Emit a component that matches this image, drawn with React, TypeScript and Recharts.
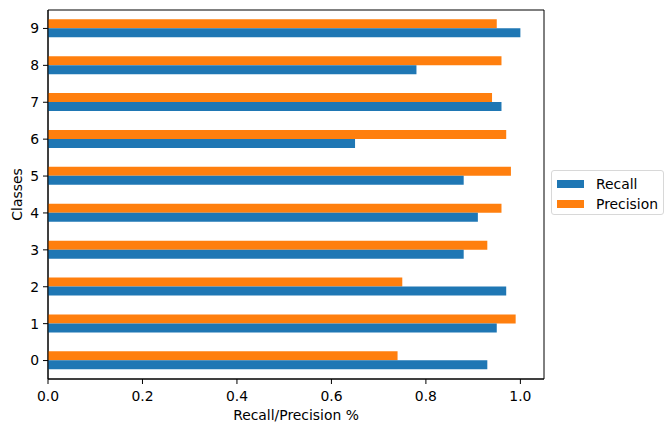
import React from 'react'
import {
  BarChart,
  Bar,
  XAxis,
  YAxis,
  Label,
  ReferenceArea,
} from 'recharts'

// values
const classes = ['0', '1', '2', '3', '4', '5', '6', '7', '8', '9']
const recall = [0.93, 0.95, 0.97, 0.88, 0.91, 0.88, 0.65, 0.96, 0.78, 1.0]
const precision = [0.74, 0.99, 0.75, 0.93, 0.96, 0.98, 0.97, 0.94, 0.96, 0.95]
const xTicks = [0, 0.2, 0.4, 0.6, 0.8, 1.0]

const data = classes.map((c, i) => ({
  cls: c,
  recall: recall[i],
  precision: precision[i],
}))

const BLUE = '#1f77b4'
const ORANGE = '#ff7f0e'
const FONT = '"DejaVu Sans", sans-serif'
const tickStyle = { fontSize: 13.9, fill: '#000', fontFamily: FONT }

function YLabel({ viewBox }: any) {
  const cy = viewBox.y + viewBox.height / 2
  return (
    <text
      x={22}
      y={cy}
      transform={`rotate(-90 22 ${cy})`}
      textAnchor="middle"
      fontSize={13.9}
      fontFamily={FONT}
      fill="#000"
    >
      Classes
    </text>
  )
}

function XLabel({ viewBox }: any) {
  return (
    <text
      x={viewBox.x + viewBox.width / 2}
      y={420}
      textAnchor="middle"
      fontSize={13.9}
      fontFamily={FONT}
      fill="#000"
    >
      Recall/Precision %
    </text>
  )
}

function LegendBox() {
  const items = [
    { name: 'Recall', color: BLUE },
    { name: 'Precision', color: ORANGE },
  ]
  return (
    <div
      style={{
        position: 'absolute',
        left: 551,
        top: 170,
        width: 111,
        height: 43,
        border: '1px solid #d8d8d8',
        borderRadius: 3,
        background: 'rgba(255,255,255,0.8)',
        fontFamily: FONT,
        fontSize: 13.9,
        color: '#000',
      }}
    >
      {items.map((it, i) => (
        <div
          key={it.name}
          style={{
            position: 'absolute',
            left: 5,
            top: 4 + i * 20.5,
            height: 17,
            display: 'flex',
            alignItems: 'center',
          }}
        >
          <span
            style={{
              display: 'inline-block',
              width: 27,
              height: 8,
              background: it.color,
              marginRight: 12,
            }}
          />
          <span>{it.name}</span>
        </div>
      ))}
    </div>
  )
}

export default function App() {
  return (
    <div
      style={{
        position: 'absolute',
        left: 0,
        top: 0,
        width: 672,
        height: 432,
        background: '#fff',
      }}
    >
      <BarChart
        width={672}
        height={432}
        data={data}
        layout="vertical"
        margin={{ top: 10, right: 128, left: 0, bottom: 0 }}
        barCategoryGap="25%"
        barGap={0}
      >
        <XAxis
          type="number"
          domain={[0, 1.05]}
          ticks={xTicks}
          tickFormatter={(v: number) => v.toFixed(1)}
          height={53}
          tickSize={5}
          tickMargin={7}
          axisLine={{ stroke: '#000' }}
          tickLine={{ stroke: '#000' }}
          tick={tickStyle}
          allowDataOverflow
        >
          <Label content={<XLabel />} />
        </XAxis>
        <YAxis
          type="category"
          dataKey="cls"
          reversed
          width={48}
          tickSize={5}
          tickMargin={4}
          axisLine={{ stroke: '#000' }}
          tickLine={{ stroke: '#000' }}
          tick={tickStyle}
          interval={0}
        >
          <Label content={<YLabel />} />
        </YAxis>
        <Bar dataKey="precision" fill={ORANGE} isAnimationActive={false} />
        <Bar dataKey="recall" fill={BLUE} isAnimationActive={false} />
        <ReferenceArea
          x1={0}
          x2={1.05}
          fill="none"
          stroke="#000"
          strokeWidth={1}
          ifOverflow="extendDomain"
        />
      </BarChart>
      <LegendBox />
    </div>
  )
}
